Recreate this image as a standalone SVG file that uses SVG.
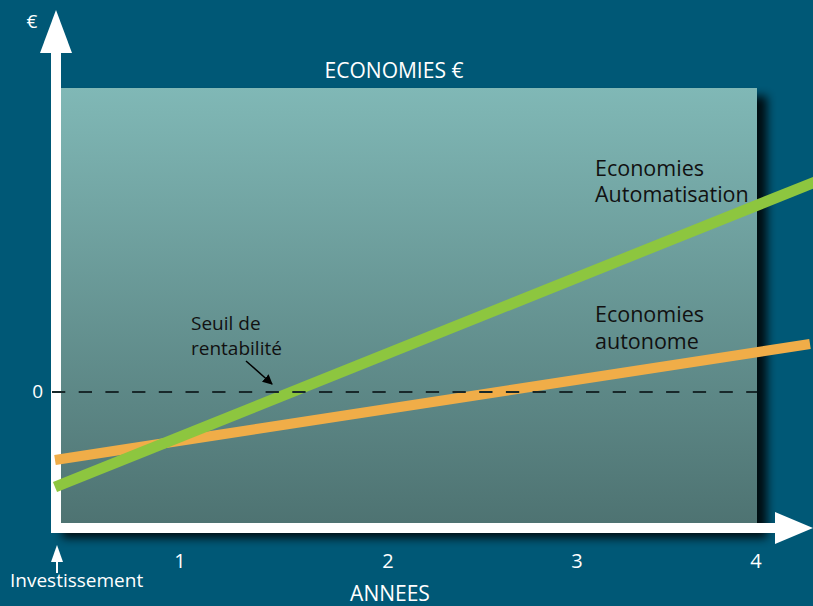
<svg xmlns="http://www.w3.org/2000/svg" width="813" height="606" viewBox="0 0 813 606">
<defs>
<linearGradient id="panelGrad" x1="0" y1="0" x2="0" y2="1">
<stop offset="0" stop-color="#80b8b6"/>
<stop offset="1" stop-color="#4e7372"/>
</linearGradient>
<filter id="shadow" x="-10%" y="-10%" width="120%" height="120%">
<feGaussianBlur stdDeviation="5"/>
</filter>
<marker id="smallHead" viewBox="0 0 10 10" refX="9" refY="5" markerWidth="10" markerHeight="10" markerUnits="userSpaceOnUse" orient="auto">
<path d="M0,0 L10,5 L0,10 Z" fill="#000"/>
</marker>
<style>
.lbl{font-family:"Open Sans","Noto Sans","Liberation Sans",sans-serif;fill:#fff}
.dark{font-family:"Open Sans","Noto Sans","Liberation Sans",sans-serif;fill:#111}
</style>
</defs>
<rect width="813" height="606" fill="#005876"/>
<g id="panel">
<rect x="62" y="96" width="705" height="442" fill="#000" opacity="0.85" filter="url(#shadow)"/>
<rect x="61" y="88" width="696" height="435" fill="url(#panelGrad)"/>
</g>
<g id="axes">
<rect x="51" y="50" width="10" height="483" fill="#fff"/>
<path d="M56,10 L72,53 L40,53 Z" fill="#fff"/>
<rect x="51" y="523" width="725" height="10" fill="#fff"/>
<path d="M813,528 L775,512 L775,544 Z" fill="#fff"/>
</g>
<g id="connectors">
<line id="autonome" x1="55" y1="460" x2="810" y2="344" stroke="#f0ad48" stroke-width="10"/>
<line id="automatisation" x1="55" y1="487" x2="815" y2="182" stroke="#8dc63f" stroke-width="11"/>
<line id="zero" x1="52" y1="392" x2="757" y2="392" stroke="#18282a" stroke-width="2" stroke-dasharray="13.3 13.4"/>
<line id="seuilArrow" x1="246" y1="361" x2="272" y2="384" stroke="#000" stroke-width="1.5" marker-end="url(#smallHead)"/>
<line id="investArrow" x1="57" y1="573" x2="57" y2="552" stroke="#fff" stroke-width="2"/>
<path d="M57,545 L63,562 L51,562 Z" fill="#fff"/>
</g>
<g id="labels">
<text class="lbl" x="32" y="28" font-size="19" text-anchor="middle">€</text>
<text class="lbl" x="394" y="78" font-size="21" text-anchor="middle">ECONOMIES €</text>
<text class="lbl" x="43" y="398" font-size="19" text-anchor="end">0</text>
<text class="lbl" x="180" y="568" font-size="20" text-anchor="middle">1</text>
<text class="lbl" x="388" y="568" font-size="20" text-anchor="middle">2</text>
<text class="lbl" x="577" y="568" font-size="20" text-anchor="middle">3</text>
<text class="lbl" x="756" y="568" font-size="20" text-anchor="middle">4</text>
<text class="lbl" x="390" y="601" font-size="21" text-anchor="middle">ANNEES</text>
<text class="lbl" x="10" y="587" font-size="19">Investissement</text>
</g>
<g id="node-automatisation">
<text class="dark" x="595" y="176" font-size="21.5">Economies</text>
<text class="dark" x="595" y="202" font-size="21.5">Automatisation</text>
</g>
<g id="node-autonome">
<text class="dark" x="595" y="322" font-size="21.5">Economies</text>
<text class="dark" x="595" y="349" font-size="21.5">autonome</text>
</g>
<g id="node-seuil">
<text class="dark" x="191" y="330" font-size="19">Seuil de</text>
<text class="dark" x="191" y="355" font-size="19">rentabilité</text>
</g>
</svg>
